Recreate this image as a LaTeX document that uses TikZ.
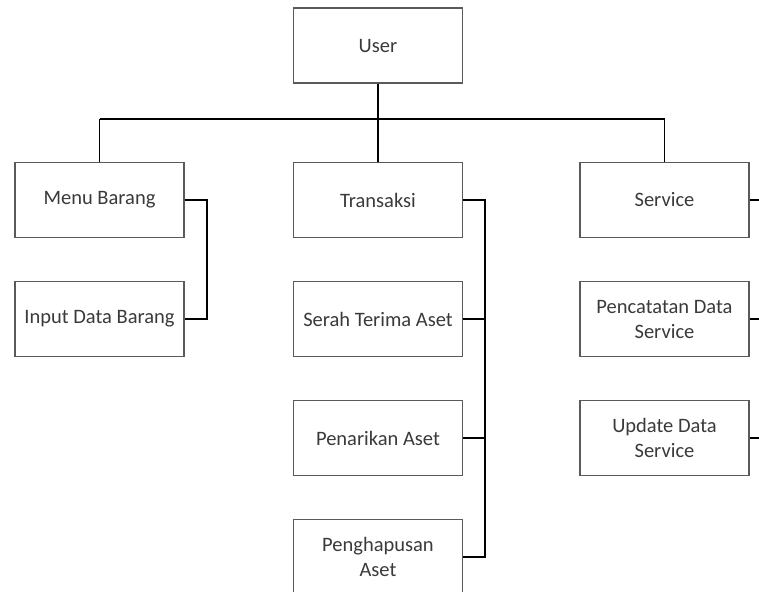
\documentclass[tikz,border=0pt]{standalone}
\usepackage{fontspec}
\setmainfont{Carlito}
\definecolor{boxline}{HTML}{5A5A5A}
\definecolor{boxtext}{HTML}{3A3A3A}
\begin{document}
\begin{tikzpicture}[x=1pt,y=-1pt,
  menubox/.style={draw=boxline,line width=1.3pt,fill=white,minimum width=169pt,minimum height=75pt,
    inner sep=2pt,align=center,text=boxtext,font=\fontsize{20.5}{25}\selectfont},
  link/.style={draw=black,line width=1.8pt}]
\clip (0,0) rectangle (759,591);
\fill[white] (0,0) rectangle (759,591);

% top level
\node[menubox] (user) at (378,45.5) {User};

% second level
\node[menubox] (menu)    at (99.5,200) {Menu Barang};
\node[menubox] (trans)   at (378,200)  {Transaksi};
\node[menubox] (service) at (664.5,200) {Service};

% sub menus
\node[menubox] (input) at (99.5,319) {Input Data Barang};
\node[menubox] (serah) at (378,319) {Serah Terima Aset};
\node[menubox] (tarik) at (378,438) {Penarikan Aset};
\node[menubox] (hapus) at (378,557) {Penghapusan\\Aset};
\node[menubox] (catat) at (664.5,319) {Pencatatan Data\\Service};
\node[menubox] (update) at (664.5,438) {Update Data\\Service};

% tree from User to the second level
\coordinate (bus) at (378,119);
\draw[link] (user.south) -- (bus);
\draw[link] (menu.north |- bus) -- (service.north |- bus);
\draw[link] (menu.north) -- (menu.north |- bus);
\draw[link] (trans.north) -- (trans.north |- bus);
\draw[link] (service.north) -- (service.north |- bus);

% Menu Barang branch
\draw[link] (menu.east) -- ++(22,0) |- (input.east);

% Transaksi branch
\draw[link] (trans.east) -- ++(22,0) |- (hapus.east);
\draw[link] (serah.east) -- ++(22,0);
\draw[link] (tarik.east) -- ++(22,0);

% Service branch
\draw[link] (service.east) -- ++(22,0) |- (update.east);
\draw[link] (catat.east) -- ++(22,0);
\end{tikzpicture}
\end{document}
